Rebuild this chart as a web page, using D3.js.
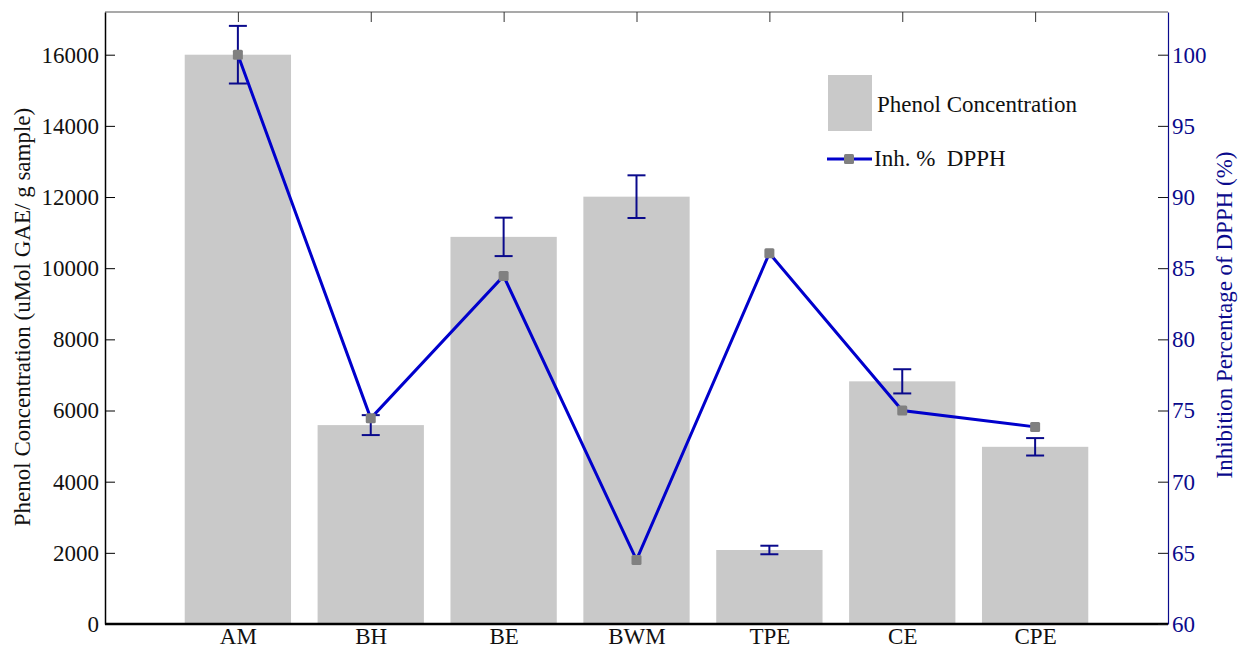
<!DOCTYPE html>
<html><head><meta charset="utf-8">
<script src="https://cdn.jsdelivr.net/npm/d3@7"></script>
<style>body{margin:0;background:#fff}svg{display:block}svg text{font-family:"Liberation Serif","Times New Roman",serif !important}</style>
</head><body><svg id="c" width="1238" height="649" font-family="Liberation Serif, serif"></svg>
<script>
const categories = ["AM","BH","BE","BWM","TPE","CE","CPE"];
const phenol = [16000, 5590, 10880, 12010, 2080, 6820, 4980];
const phenolErr = [810, 280, 540, 600, 120, 340, 245];
const inhibition = [100, 74.45, 84.45, 64.5, 86.05, 75.0, 73.85];
const leftTicks = [0,2000,4000,6000,8000,10000,12000,14000,16000];
const rightTicks = [60,65,70,75,80,85,90,95,100];

const FONT = "Liberation Serif, Times New Roman, serif";
const svg = d3.select("#c");
const L=105, R=1168, T=12, B=624;
const x = d3.scaleLinear().domain([0, categories.length+1]).range([L,R]);
const yL = d3.scaleLinear().domain([0,17200]).range([B,T]);
const yR = d3.scaleLinear().domain([60,103]).range([B,T]);
const step = x(1)-x(0), bw = step*0.8;
const navy = "#0a0a8c", lineC = "#0000cc";

// bars
svg.append("g").selectAll("rect").data(phenol).join("rect")
  .attr("x",(d,i)=>x(i+1)-bw/2).attr("width",bw)
  .attr("y",d=>yL(d)).attr("height",d=>B-yL(d)).attr("fill","#c9c9c9");

// error bars
const eg = svg.append("g").attr("stroke",navy).attr("stroke-width",2).attr("fill","none");
phenol.forEach((d,i)=>{
  const cx=x(i+1), lo=yL(d-phenolErr[i]), hi=yL(d+phenolErr[i]);
  eg.append("line").attr("x1",cx).attr("x2",cx).attr("y1",lo).attr("y2",hi);
  eg.append("line").attr("x1",cx-9).attr("x2",cx+9).attr("y1",lo).attr("y2",lo);
  eg.append("line").attr("x1",cx-9).attr("x2",cx+9).attr("y1",hi).attr("y2",hi);
});

// line
svg.append("path").datum(inhibition)
  .attr("d",d3.line().x((d,i)=>x(i+1)).y(d=>yR(d)))
  .attr("fill","none").attr("stroke",lineC).attr("stroke-width",3);
svg.append("g").selectAll("rect").data(inhibition).join("rect")
  .attr("x",(d,i)=>x(i+1)-5).attr("y",d=>yR(d)-5).attr("width",10).attr("height",10)
  .attr("rx",1.5).attr("fill","#808080");

// top border
svg.append("line").attr("x1",L).attr("x2",R).attr("y1",T).attr("y2",T).attr("stroke","#555").attr("stroke-width",1.2);
const tg = svg.append("g").attr("transform",`translate(0,${T})`)
  .call(d3.axisBottom(x).tickValues(d3.range(1,categories.length+1)).tickSize(10).tickFormat(""));
tg.select(".domain").remove(); tg.selectAll("line").attr("stroke","#333");

// left axis
const la = svg.append("g").attr("transform",`translate(${L},0)`)
  .call(d3.axisLeft(yL).tickValues(leftTicks).tickSize(-10).tickSizeOuter(0).tickFormat(d3.format("d")));
la.attr("font-family",FONT);
la.select(".domain").attr("stroke","#000").attr("stroke-width",1.5);
la.selectAll("text").attr("font-size",23).attr("font-family",FONT).attr("fill","#111").attr("x",-6);
// bottom axis
const ba = svg.append("g").attr("transform",`translate(0,${B})`)
  .call(d3.axisBottom(x).tickValues(d3.range(1,categories.length+1)).tickSize(0).tickPadding(4).tickFormat(i=>categories[i-1]));
ba.attr("font-family",FONT);
ba.select(".domain").attr("stroke","#000").attr("stroke-width",2.5).attr("d",`M${L},0H${R}`);
ba.selectAll("text").attr("font-size",23).attr("font-family",FONT).attr("fill","#111");
// right axis
const ra = svg.append("g").attr("transform",`translate(${R},0)`)
  .call(d3.axisRight(yR).tickValues(rightTicks).tickSize(-10).tickSizeOuter(0));
ra.attr("font-family",FONT);
ra.select(".domain").attr("stroke",navy).attr("stroke-width",1.2);
ra.selectAll(".tick line").attr("stroke","#111");
ra.selectAll("text").attr("font-size",23).attr("font-family",FONT).attr("fill",navy).attr("x",4);

// axis titles
svg.append("text").attr("transform",`translate(30,317) rotate(-90)`).attr("text-anchor","middle")
  .attr("font-family",FONT).attr("font-size",23).attr("fill","#111").text("Phenol Concentration (uMol GAE/ g sample)");
svg.append("text").attr("transform",`translate(1232,315) rotate(-90)`).attr("text-anchor","middle")
  .attr("font-family",FONT).attr("font-size",23).attr("fill",navy).text("Inhibition Percentage of DPPH (%)");

// legend
svg.append("rect").attr("x",828).attr("y",75).attr("width",44).attr("height",56).attr("fill","#c9c9c9");
svg.append("text").attr("x",877).attr("y",112).attr("font-family",FONT).attr("font-size",23).attr("fill","#111").text("Phenol Concentration");
svg.append("line").attr("x1",827).attr("x2",872).attr("y1",159).attr("y2",159).attr("stroke",lineC).attr("stroke-width",3);
svg.append("rect").attr("x",844).attr("y",154).attr("width",10).attr("height",10).attr("rx",1.5).attr("fill","#808080");
svg.append("text").attr("x",874).attr("y",166).attr("font-family",FONT).attr("font-size",23).attr("fill","#111").attr("xml:space","preserve").text("Inh. %  DPPH");
</script></body></html>
